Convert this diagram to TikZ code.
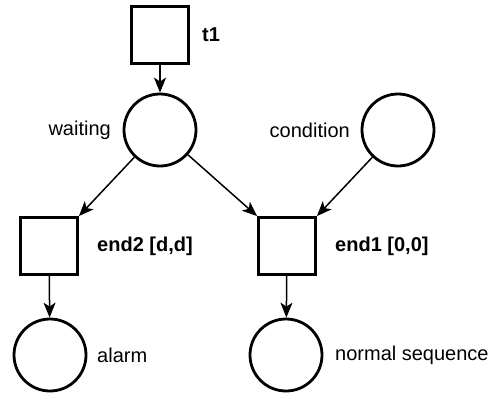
\documentclass[tikz,border=0pt]{standalone}
\usepackage{fontspec}
\setmainfont{Liberation Sans}
\usetikzlibrary{arrows.meta, positioning}
\tikzset{
  trans/.style  = {draw, line width=2.8pt, minimum size=57pt, inner sep=0pt},
  place/.style  = {draw, circle, line width=2.8pt, minimum size=72pt, inner sep=0pt},
  arc/.style    = {line width=1.5pt, -{Stealth[length=15pt, width=12pt, inset=4pt]}},
  tlbl/.style   = {font=\fontsize{20}{24}\selectfont\bfseries, inner sep=0pt, anchor=west},
  plbl/.style   = {font=\fontsize{20}{24}\selectfont, inner sep=0pt},
}
\begin{document}
\begin{tikzpicture}[x=1pt, y=-1pt]
  \useasboundingbox (0,0) rectangle (490,397);
  % transitions
  \node[trans] (t1)   at (160,35)  {};
  \node[trans] (end2) at (49,246)  {};
  \node[trans] (end1) at (287,246) {};
  % places
  \node[place] (waiting)   at (160,130) {};
  \node[place] (condition) at (398,130) {};
  \node[place] (alarm)     at (50,355)  {};
  \node[place] (normal)    at (286,355) {};
  % labels
  \node[tlbl] (t1l)   at (202,35)  {t1};
  \node[tlbl] (end2l) at (97,246)  {end2 [d,d]};
  \node[tlbl] (end1l) at (335,246) {end1 [0,0]};
  \node[plbl, anchor=east] (waitl) at (111,130) {waiting};
  \node[plbl, anchor=east] (condl) at (350,130) {condition};
  \node[plbl, anchor=west] (alarml)  at (97,355)  {alarm};
  \node[plbl, anchor=west] (normall) at (335,355) {normal sequence};
  % arcs
  \draw[arc] (t1) -- (waiting);
  \draw[arc] (waiting) -- (end2.north east);
  \draw[arc] (waiting) -- (end1.north west);
  \draw[arc] (condition) -- (end1.north east);
  \draw[arc] (end2) -- (alarm);
  \draw[arc] (end1) -- (normal);
\end{tikzpicture}
\end{document}
